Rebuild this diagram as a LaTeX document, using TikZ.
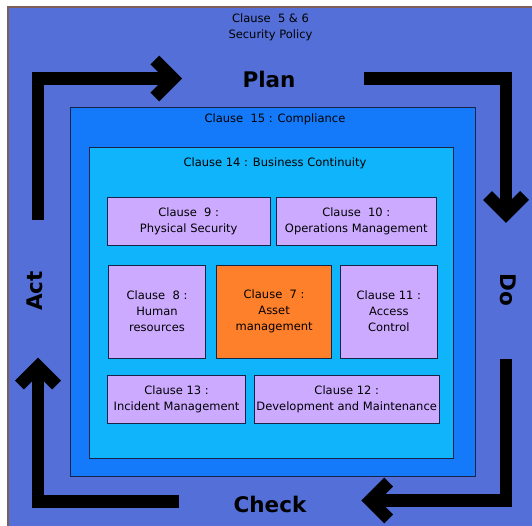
\documentclass[tikz,border=0pt]{standalone}
\usepackage{fontspec}
\setmainfont{DejaVu Sans}
\usetikzlibrary{positioning}
\definecolor{policyblue}{RGB}{84,112,216}
\definecolor{compblue}{RGB}{20,122,250}
\definecolor{contblue}{RGB}{16,180,250}
\definecolor{clauselav}{RGB}{204,170,255}
\definecolor{assetorange}{RGB}{255,128,42}
\definecolor{edge}{RGB}{25,35,70}
\definecolor{rim}{RGB}{125,95,85}

\begin{document}
\begin{tikzpicture}[x=1pt, y=-1pt,
        layer/.style={draw=edge, line width=0.8pt, inner sep=0pt, outer sep=0pt},
        clause/.style={draw=edge, line width=0.8pt, fill=clauselav, align=center,
                       inner sep=2pt, outer sep=0pt,
                       font=\fontsize{11.5}{16}\selectfont},
        lbl/.style={align=center, font=\fontsize{11.5}{16}\selectfont},
        cyc/.style={font=\fontsize{21.5}{24}\selectfont\bfseries},
        bar/.style={line width=12.5pt, line join=miter}]

      \useasboundingbox (0,0) rectangle (532,526);
      \fill[policyblue] (8,7) rectangle (545,540);
      \draw[rim, line width=1.2pt] (8,540) -- (8,7) -- (545,7);

      % nested layers
      \node[layer, fill=compblue, minimum width=405pt, minimum height=369.5pt]
            (comp) at (272.5,292) {};
      \node[layer, fill=contblue, minimum width=363.3pt, minimum height=311pt]
            (cont) at (271.4,302.8) {};

      \node[lbl] (policy) at (270.5,27) {Clause\ \ 5 \& 6\\Security Policy};
      \node[lbl] (comptitle) at (275,119.5) {Clause\ \ 15 : Compliance};
      \node[lbl] (conttitle) at (275,163) {Clause 14 : Business Continuity};

      % clauses
      \node[clause, minimum width=162.7pt, minimum height=48.4pt]
            (c9) at (188.7,221.5) {Clause\ \ 9 :\\Physical Security};
      \node[clause, minimum width=160.5pt, minimum height=48.4pt]
            (c10) at (356.3,221.5) {Clause\ \ 10 :\\Operations Management};
      \node[clause, minimum width=97.4pt, minimum height=93.3pt]
            (c8) at (157,311.7) {Clause\ \ 8 :\\Human\\resources};
      \node[clause, fill=assetorange, minimum width=115.2pt, minimum height=93.3pt,
            right=10.8pt of c8] (c7) {Clause\ \ 7 :\\Asset\\management};
      \node[clause, minimum width=97.7pt, minimum height=93.3pt,
            right=8.3pt of c7] (c11) {Clause 11 :\\Access\\Control};
      \node[clause, minimum width=138.4pt, minimum height=48pt]
            (c13) at (176.5,399.7) {Clause 13 :\\Incident Management};
      \node[clause, minimum width=184pt, minimum height=48pt]
            (c12) at (346.7,399.7) {Clause 12 :\\Development and Maintenance};

      % PDCA loop
      \coordinate (planstart) at (38,220);
      \coordinate (plantip) at (173.4,78.5);
      \draw[bar] (planstart) |- (plantip);
      \draw[bar] ([shift={(-18.5,-18.5)}]plantip) -- (plantip)
                 -- ([shift={(-18.5,18.5)}]plantip);

      \coordinate (dostart) at (364,78.5);
      \coordinate (dotip) at (506,214);
      \draw[bar] (dostart) -| (dotip);
      \draw[bar] ([shift={(-18.5,-18.5)}]dotip) -- (dotip)
                 -- ([shift={(18.5,-18.5)}]dotip);

      \coordinate (checkstart) at (506,359.3);
      \coordinate (checktip) at (370.2,500.5);
      \draw[bar] (checkstart) |- (checktip);
      \draw[bar] ([shift={(18.5,-18.5)}]checktip) -- (checktip)
                 -- ([shift={(18.5,18.5)}]checktip);

      \coordinate (actstart) at (179,501.3);
      \coordinate (acttip) at (38,366.5);
      \draw[bar] (actstart) -| (acttip);
      \draw[bar] ([shift={(-18.5,18.5)}]acttip) -- (acttip)
                 -- ([shift={(18.5,18.5)}]acttip);

      \node[cyc] (plan) at (269,79) {Plan};
      \node[cyc] (check) at (270,504) {Check};
      \node[cyc, rotate=90] (act) at (35,291) {Act};
      \node[cyc, rotate=-90] (do) at (508,289.5) {Do};
    \end{tikzpicture}
\end{document}
